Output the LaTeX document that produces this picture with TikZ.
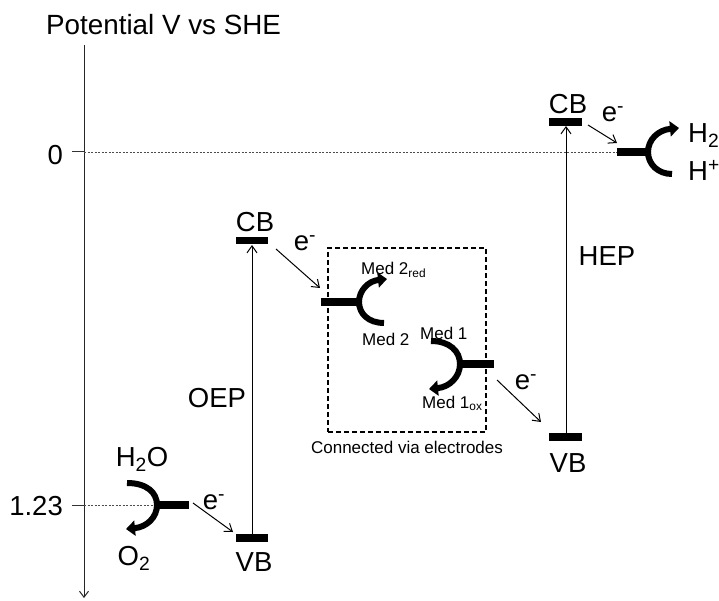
\documentclass[tikz,border=0pt]{standalone}
\usepackage{fontspec}
\setmainfont{Liberation Sans}
\usetikzlibrary{arrows.meta}
\begin{document}
\begin{tikzpicture}[x=1pt,y=-1pt,
  big/.style={font=\fontsize{27.5}{32}\selectfont, inner sep=0pt},
  title/.style={font=\fontsize{27.8}{32}\selectfont, inner sep=0pt},
  small/.style={font=\fontsize{17}{20}\selectfont, inner sep=0pt},
  bar/.style={line width=7.5pt},
  fork/.style={line width=6pt},
  forktip/.style={fork, -{Triangle[length=9pt,width=15pt]}},
  thinline/.style={line width=1pt},
  earrow/.style={thinline, -{Straight Barb[length=7pt,width=10pt]}},
  dotline/.style={black!70, line width=0.7pt, dash pattern=on 2pt off 1.5pt},
  boxline/.style={line width=1.1pt, dash pattern=on 5pt off 3pt}]
\useasboundingbox (0,0) rectangle (719,601);

% axis
\coordinate (axtop) at (84,45);
\coordinate (axbot) at (84,598);
\draw[thinline, black!85, -{Straight Barb[length=6pt,width=9pt]}] (axtop) -- (axbot);
\node[title, anchor=base west] (ttl) at (46,35) {Potential V vs SHE};

% ticks and reference lines
\coordinate (t0a) at (72,152);
\coordinate (t0b) at (84,152);
\coordinate (t1a) at (72,505);
\coordinate (t1b) at (84,505);
\draw[thinline, black!80] (t0a) -- (t0b);
\draw[thinline, black!80] (t1a) -- (t1b);
\node[big, anchor=east] (l0) at (63,155) {0};
\node[big, anchor=east] (l123) at (63,506) {1.23};
\coordinate (d0end) at (617,152);
\coordinate (d1end) at (157,505);
\draw[dotline] (t0b) -- (d0end);
\draw[dotline] (t1b) -- (d1end);

% OEP
\coordinate (oepcbL) at (236,240.5);
\coordinate (oepcbR) at (268,240.5);
\coordinate (oepvbL) at (236,538);
\coordinate (oepvbR) at (268,538);
\draw[bar] (oepcbL) -- (oepcbR);
\draw[bar] (oepvbL) -- (oepvbR);
\coordinate (oepup) at (252,245);
\coordinate (oepdn) at (252,534);
\draw[thinline, -{Straight Barb[length=7pt,width=10pt]}] (oepdn) -- (oepup);
\node[big] (oepcb) at (255,222) {CB};
\node[big] (oepvb) at (254,562) {VB};
\node[big] (oep) at (217,398) {OEP};

% HEP
\coordinate (hepcbL) at (549,122);
\coordinate (hepcbR) at (582,122);
\coordinate (hepvbL) at (549,437);
\coordinate (hepvbR) at (582,437);
\draw[bar] (hepcbL) -- (hepcbR);
\draw[bar] (hepvbL) -- (hepvbR);
\coordinate (hepup) at (566,126);
\coordinate (hepdn) at (566,433);
\draw[thinline, -{Straight Barb[length=7pt,width=10pt]}] (hepdn) -- (hepup);
\node[big] (hepcb) at (568,104) {CB};
\node[big] (hepvb) at (568,463) {VB};
\node[big] (hep) at (607,256) {HEP};

% H2 fork
\coordinate (h2barL) at (617,152);
\coordinate (h2barR) at (649,152);
\draw[bar] (h2barL) -- (h2barR);
\draw[fork] (672,174) .. controls (657.9,174) and (648,164.1) .. (648,152);
\draw[forktip] (648,152) .. controls (648,139.9) and (657.9,130) .. (679,128);
\node[big, anchor=base west] (h2) at (688,143) {H\textsubscript{2}};
\node[big, anchor=base west] (hp) at (688,181) {H\textsuperscript{+}};

% O2 fork
\coordinate (o2barL) at (157,505);
\coordinate (o2barR) at (189,505);
\draw[bar] (o2barL) -- (o2barR);
\draw[fork] (127,483) .. controls (147.1,483) and (157,492.9) .. (157,505);
\draw[forktip] (157,505) .. controls (157,517.1) and (147.1,527) .. (126,529);
\node[big] (h2o) at (142,459) {H\textsubscript{2}O};
\node[big] (o2) at (134,558) {O\textsubscript{2}};

% mediator box
\node[draw, boxline, minimum width=158pt, minimum height=184pt, inner sep=0pt] (box) at (407,340) {};
\node[small] (conn) at (407,447) {Connected via electrodes};

% Med 2 fork
\coordinate (m2barL) at (321,302);
\coordinate (m2barR) at (359,302);
\draw[bar] (m2barL) -- (m2barR);
\draw[fork] (384,323) .. controls (368.4,323) and (359,313.6) .. (359,302);
\draw[forktip] (359,302) .. controls (359,290.4) and (368.4,281) .. (387,279);
\node[small, anchor=base west] (m2red) at (361,275) {Med 2\textsubscript{red}};
\node[small, anchor=base west] (m2) at (362,345) {Med 2};

% Med 1 fork
\coordinate (m1barL) at (460,364);
\coordinate (m1barR) at (494,364);
\draw[bar] (m1barL) -- (m1barR);
\draw[fork] (431,341) .. controls (449.7,341) and (460,351.3) .. (460,364);
\draw[forktip] (460,364) .. controls (460,376.7) and (449.7,387) .. (429,389);
\node[small, anchor=base west] (m1) at (420,339) {Med 1};
\node[small, anchor=base west] (m1ox) at (422,408) {Med 1\textsubscript{ox}};

% electron transfers
\coordinate (e1s) at (276,249);
\coordinate (e1e) at (320,288);
\draw[earrow] (e1s) -- (e1e);
\node[big] (e1) at (305,243) {e\textsuperscript{-}};
\coordinate (e2s) at (497,380);
\coordinate (e2e) at (541,422);
\draw[earrow] (e2s) -- (e2e);
\node[big] (e2) at (526,382) {e\textsuperscript{-}};
\coordinate (e3s) at (193,503);
\coordinate (e3e) at (233,532);
\draw[earrow] (e3s) -- (e3e);
\node[big] (e3) at (214,502) {e\textsuperscript{-}};
\coordinate (e4s) at (588,125);
\coordinate (e4e) at (617,143);
\draw[earrow] (e4s) -- (e4e);
\node[big] (e4) at (613,114) {e\textsuperscript{-}};
\end{tikzpicture}
\end{document}
